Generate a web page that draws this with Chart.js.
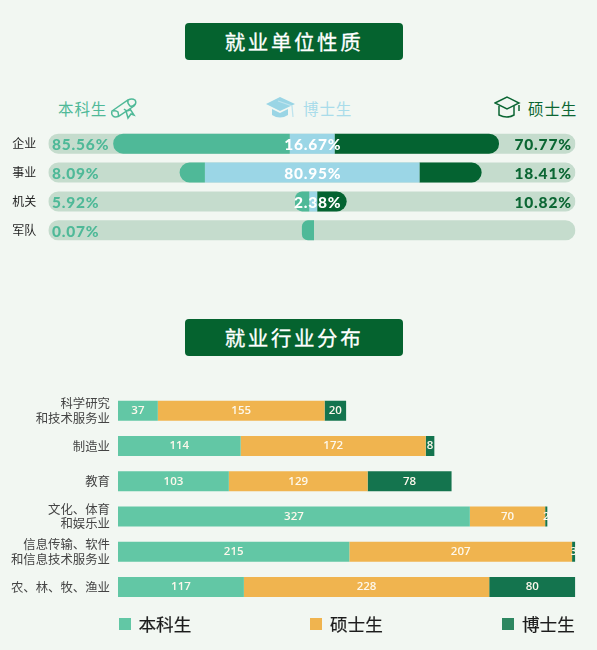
<!DOCTYPE html>
<html>
<head>
<meta charset="utf-8">
<script src="https://cdn.jsdelivr.net/npm/chart.js@4"></script>
<style>
html, body { margin: 0; padding: 0; }
body { width: 597px; height: 650px; background: #f2f7f2; position: relative; overflow: hidden; font-family: "Noto Sans CJK SC", sans-serif; }
canvas { position: absolute; left: 0; }
.title { position: absolute; left: 185px; width: 218px; height: 37px; line-height: 36px; background: #05632f; border-radius: 4px; color: #fff; font-size: 20.5px; letter-spacing: 2.6px; text-align: center; -webkit-text-stroke: 0.3px #fff; }
.head { position: absolute; top: 96px; font-size: 15.5px; line-height: 24px; letter-spacing: 0.9px; }
.icon { position: absolute; }
.key { position: absolute; top: 611.5px; font-size: 17.6px; line-height: 24px; color: #1c1c1c; -webkit-text-stroke: 0.2px #1c1c1c; }
.box { position: absolute; top: 618px; width: 12px; height: 12px; }
</style>
</head>
<body>
<div class="title" style="top:23px">就业单位性质</div>
<div class="title" style="top:319px">就业行业分布</div>

<div class="head" style="left:58px;color:#4fb998">本科生</div>
<svg class="icon" style="left:110px;top:97px" width="28" height="23" viewBox="0 0 28 23" fill="none" stroke="#4fb998" stroke-width="1.5">
  <path d="M2 14 L18 3 Q22 1 25 3 Q27 6 24 9 L9 19 Q5 21 3 19 Q1 17 2 14 Z"/>
  <path d="M18 3 Q17 6 20 9 Q23 10 25 7 M3 14 Q6 13 8 15 Q9 18 8 20"/>
  <path d="M14 12 Q17 15 20 13 M16 14 L18 21 L21 17 L24 18 L20 12"/>
</svg>

<svg class="icon" style="left:265px;top:96px" width="32" height="24" viewBox="0 0 32 24">
  <path d="M1 8 L15 1 L30 8 L15 15 Z" fill="#9ad5e5"/>
  <path d="M7 13 L15 17 L23 13 L23 19 Q15 24 7 19 Z" fill="#9ad5e5"/>
  <path d="M13 5 L27 10 L28 21" fill="none" stroke="#bfe4ee" stroke-width="1.3"/>
</svg>
<div class="head" style="left:303px;color:#a9dcea">博士生</div>

<svg class="icon" style="left:494px;top:96px" width="28" height="24" viewBox="0 0 28 24" fill="none" stroke="#0b6633" stroke-width="1.5">
  <path d="M1 7 L13 1 L25 7 L13 13 Z"/>
  <path d="M5 10 L5 19 Q13 23 20 19 L20 10"/>
  <path d="M25 9 L25 15"/>
</svg>
<div class="head" style="left:528px;color:#0b6633">硕士生</div>

<canvas id="unitChart" width="597" height="154" style="top:110px"></canvas>
<canvas id="industryChart" width="597" height="249" style="top:378px"></canvas>

<div class="box" style="left:118.5px;background:#62c7a5"></div>
<div class="key" style="left:138.5px">本科生</div>
<div class="box" style="left:310px;background:#f0b44f"></div>
<div class="key" style="left:330px">硕士生</div>
<div class="box" style="left:502px;background:#2e8761"></div>
<div class="key" style="left:522px">博士生</div>

<script>
// top chart
var unitNames = ["企业", "事业", "机关", "军队"]
var bachelorShare = [85.56, 8.09, 5.92, 0.07]
var phdShare = [16.67, 80.95, 2.38, null]
var masterShare = [70.77, 18.41, 10.82, null]
// the drawn bars are not to scale with the printed percents, so start/end are read off the track (0-100)
var bachelorBars = [[12.3, 45.8], [24.9, 29.7], [46.8, 49.5], [48.1, 50.4]]
var phdBars = [[45.8, 54.3], [29.7, 70.4], [49.5, 51.0], null]
var masterBars = [[54.3, 85.5], [70.4, 82.2], [51.0, 56.6], null]
var trackBars = [100, 100, 100, 100]

// bottom chart
var industryNames = [
    ["科学研究", "和技术服务业"],
    "制造业",
    "教育",
    ["文化、体育", "和娱乐业"],
    ["信息传输、软件", "和信息技术服务业"],
    "农、林、牧、渔业"
]
var bachelorCount = [37, 114, 103, 327, 215, 117]
var masterCount = [155, 172, 129, 70, 207, 228]
var phdCount = [20, 8, 78, 2, 3, 80]

var unitLabels = {
    id: "unitLabels",
    afterDatasetsDraw: function (chart) {
        var ctx = chart.ctx
        var x = chart.scales.x
        var y = chart.scales.y
        ctx.save()
        ctx.font = "900 15.5px Lato"
        ctx.letterSpacing = "0.8px"
        ctx.textBaseline = "middle"
        for (var i = 0; i < unitNames.length; i++) {
            var py = y.getPixelForValue(i) + 1.5
            ctx.textAlign = "left"
            ctx.fillStyle = "#4fb998"
            ctx.fillText(bachelorShare[i].toFixed(2) + "%", x.getPixelForValue(0.7), py)
            if (phdShare[i] != null) {
                ctx.textAlign = "right"
                ctx.fillStyle = "#ffffff"
                ctx.fillText(phdShare[i].toFixed(2) + "%", x.getPixelForValue(55.6), py)
                ctx.fillStyle = "#0b6633"
                ctx.fillText(masterShare[i].toFixed(2) + "%", x.getPixelForValue(99.3), py)
            }
        }
        ctx.restore()
    }
}

var countLabels = {
    id: "countLabels",
    afterDatasetsDraw: function (chart) {
        var ctx = chart.ctx
        ctx.save()
        ctx.font = "600 11.5px 'Open Sans'"
        ctx.fillStyle = "#fdf8ec"
        ctx.textAlign = "center"
        ctx.textBaseline = "middle"
        chart.data.datasets.forEach(function (ds, d) {
            chart.getDatasetMeta(d).data.forEach(function (bar, i) {
                ctx.fillText(ds.data[i], (bar.x + bar.base) / 2, bar.y)
            })
        })
        ctx.restore()
    }
}

new Chart("unitChart", {
    type: "bar",
    plugins: [unitLabels],
    data: {
        labels: unitNames,
        datasets: [{
            label: "本科生",
            data: bachelorBars,
            backgroundColor: "#4fb998",
            borderRadius: { topLeft: 10, bottomLeft: 10, topRight: 0, bottomRight: 0 }
        }, {
            label: "博士生",
            data: phdBars,
            backgroundColor: "#9bd6e6",
            borderRadius: 0
        }, {
            label: "硕士生",
            data: masterBars,
            backgroundColor: "#046331",
            borderRadius: { topLeft: 0, bottomLeft: 0, topRight: 10, bottomRight: 10 }
        }, {
            label: "底",
            data: trackBars,
            backgroundColor: "#c5dccd",
            borderRadius: 10
        }]
    },
    options: {
        indexAxis: "y",
        responsive: false,
        animation: false,
        layout: { padding: { top: 9.5, bottom: 10.5, right: 21.5 } },
        datasets: { bar: { barThickness: 20, grouped: false, borderSkipped: false, inflateAmount: 0 } },
        plugins: { legend: { display: false }, tooltip: { enabled: false } },
        scales: {
            x: { display: false, min: 0, max: 100 },
            y: {
                afterFit: function (scale) { scale.width = 48.3 },
                grid: { display: false, drawTicks: false },
                border: { display: false },
                ticks: { padding: 12, color: "#222", font: { family: "Noto Sans CJK SC", size: 12 } }
            }
        }
    }
})

new Chart("industryChart", {
    type: "bar",
    plugins: [countLabels],
    data: {
        labels: industryNames,
        datasets: [
            { label: "本科生", data: bachelorCount, backgroundColor: "#62c7a5" },
            { label: "硕士生", data: masterCount, backgroundColor: "#f0b44f" },
            { label: "博士生", data: phdCount, backgroundColor: "#14744e" }
        ]
    },
    options: {
        indexAxis: "y",
        responsive: false,
        animation: false,
        layout: { padding: { top: 12.5, bottom: 10.7, right: 21.7 } },
        datasets: { bar: { barThickness: 20, inflateAmount: 0 } },
        plugins: { legend: { display: false }, tooltip: { enabled: false } },
        scales: {
            x: { display: false, stacked: true, min: 0, max: 425 },
            y: {
                stacked: true,
                afterFit: function (scale) { scale.width = 118 },
                grid: { display: false, drawTicks: false },
                border: { display: false },
                ticks: { padding: 8, autoSkip: false, color: "#444", font: { family: "Noto Sans CJK SC", size: 12.4, lineHeight: 1.15 } }
            }
        }
    }
})
</script>
</body>
</html>
